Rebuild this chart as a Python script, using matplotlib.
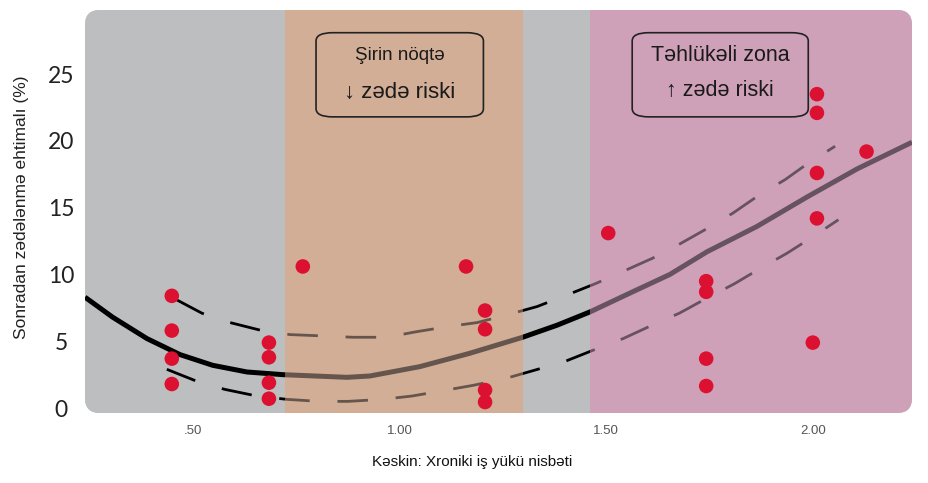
import numpy as np
import matplotlib
matplotlib.use("Agg")
import matplotlib.pyplot as plt
import matplotlib.patches as mpatches

# 점 데이터 (x: 비율, y: %)
dot_x = [0.449, 0.449, 0.449, 0.449, 0.684, 0.684, 0.684, 0.684, 0.766,
         1.161, 1.207, 1.207, 1.207, 1.207, 1.505,
         1.742, 1.742, 1.742, 1.742, 2.0, 2.01, 2.01, 2.01, 2.01, 2.13]
dot_y = [8.4, 5.8, 3.7, 1.8, 4.9, 3.8, 1.9, 0.7, 10.6,
         10.6, 7.3, 5.9, 1.35, 0.45, 13.1,
         9.5, 8.7, 3.7, 1.65, 4.9, 23.5, 22.1, 17.6, 14.2, 19.2]

# 추세선
fit_x = [0.239, 0.306, 0.389, 0.469, 0.548, 0.631, 0.718, 0.873, 0.928, 1.049, 1.170,
         1.298, 1.381, 1.461, 1.557, 1.654, 1.744, 1.865, 1.986, 2.107, 2.24]
fit_y = [8.3, 6.8, 5.2, 4.0, 3.2, 2.7, 2.5, 2.3, 2.4, 3.1, 4.1,
         5.3, 6.2, 7.2, 8.6, 10.0, 11.7, 13.6, 15.8, 17.9, 19.9]

# 신뢰구간 (위/아래)
up_x = [0.461, 0.522, 0.590, 0.667, 0.735, 0.815, 0.887, 0.970, 1.038, 1.117, 1.188, 1.263,
        1.333, 1.408, 1.473, 1.546, 1.611, 1.679, 1.742, 1.807, 1.868, 1.933, 1.992, 2.054]
up_y = [8.1, 7.1, 6.4, 5.8, 5.5, 5.4, 5.3, 5.3, 5.7, 6.1, 6.4, 7.0,
        7.6, 8.5, 9.3, 10.3, 11.2, 12.3, 13.4, 14.6, 15.9, 17.1, 18.4, 19.6]
lo_x = [0.437, 0.510, 0.577, 0.655, 0.728, 0.805, 0.875, 0.958, 1.030, 1.105, 1.178, 1.255,
        1.323, 1.401, 1.466, 1.541, 1.604, 1.677, 1.742, 1.810, 1.870, 1.938, 1.999, 2.062]
lo_y = [2.9, 2.0, 1.4, 0.9, 0.65, 0.5, 0.5, 0.65, 0.9, 1.3, 1.7, 2.2,
        2.8, 3.5, 4.3, 5.2, 6.1, 7.1, 8.2, 9.3, 10.4, 11.6, 12.8, 14.1]

# 구간: (시작, 끝, 배경색, 선색)
zones = [(0.239, 0.723, '#bdbec0', '#000000'),
         (0.723, 1.299, '#d2ae97', '#66554d'),
         (1.299, 1.461, '#bdbec0', '#000000'),
         (1.461, 2.24, '#cfa1b8', '#675260')]

x_ticks = [0.5, 1.0, 1.5, 2.0]
x_tick_labels = ['.50', '1.00', '1.50', '2.00']
y_ticks = [0, 5, 10, 15, 20, 25]

fig = plt.figure(figsize=(9.29, 4.83), dpi=100)
ax = fig.add_axes([85 / 929, 1 - 413 / 483, 827 / 929, 403 / 483])
ax.set_xlim(0.239, 2.24)
ax.set_ylim(-0.37, 29.8)
for s in ax.spines.values():
    s.set_visible(False)
ax.patch.set_visible(False)

# 둥근 패널
panel = mpatches.FancyBboxPatch((0, 0), 1, 1, boxstyle="round,pad=0,rounding_size=0.018",
                                mutation_aspect=827 / 403, transform=ax.transAxes,
                                facecolor='#bdbec0', edgecolor='none', zorder=0)
ax.add_patch(panel)

for x0, x1, bg, lc in zones:
    r = ax.axvspan(x0, x1, color=bg, lw=0, zorder=1)
    r.set_clip_path(panel)
    clip = mpatches.Rectangle((x0, -5), x1 - x0, 50, transform=ax.transData)
    l1, = ax.plot(fit_x, fit_y, color=lc, lw=3.6, solid_capstyle='butt', solid_joinstyle='round', zorder=2)
    l2, = ax.plot(up_x, up_y, color=lc, lw=2.0, dashes=(11, 10), zorder=2)
    l3, = ax.plot(lo_x, lo_y, color=lc, lw=2.0, dashes=(11, 10), zorder=2)
    for ln in (l1, l2, l3):
        ln.set_clip_path(clip)

ax.scatter(dot_x, dot_y, s=110, color='#dc1030', edgecolors='none', zorder=4)

# 주석 박스
box1 = mpatches.FancyBboxPatch((0.798, 21.8), 0.405, 6.3, boxstyle="round,pad=0,rounding_size=0.04",
                               mutation_aspect=15.5, facecolor='none', edgecolor='#222222', lw=1.2, zorder=5)
box2 = mpatches.FancyBboxPatch((1.563, 21.8), 0.426, 6.3, boxstyle="round,pad=0,rounding_size=0.04",
                               mutation_aspect=15.5, facecolor='none', edgecolor='#222222', lw=1.2, zorder=5)
ax.add_patch(box1)
ax.add_patch(box2)
tf = ['Liberation Sans', 'DejaVu Sans']
ax.text(1.001, 26.4, 'Şirin nöqtə', ha='center', va='center', fontsize=13.5, family=tf, color='#1a1a1a', zorder=6)
ax.text(1.001, 23.65, '↓ zədə riski', ha='center', va='center', fontsize=16, family=tf, color='#1a1a1a', zorder=6)
ax.text(1.776, 26.4, 'Təhlükəli zona', ha='center', va='center', fontsize=15.5, family=tf, color='#1a1a1a', zorder=6)
ax.text(1.776, 23.8, '↑ zədə riski', ha='center', va='center', fontsize=15.5, family=tf, color='#1a1a1a', zorder=6)

ax.set_xticks(x_ticks)
ax.set_xticklabels(x_tick_labels, fontsize=9.5, color='#555555', family='Liberation Sans')
ax.set_yticks(y_ticks)
ax.set_yticklabels([str(v) for v in y_ticks], fontsize=16.5, color='#222222', family='Lato', ha='center')
ax.tick_params(axis='x', length=0, pad=9)
ax.tick_params(axis='y', length=0, pad=17)

fig.text(22 / 929, 1 - 207 / 483, 'Sonradan zədələnmə ehtimalı (%)', rotation=90, ha='center', va='center',
         fontsize=12.5, family='Liberation Sans', color='#222222')
fig.text(472 / 929, 1 - 462 / 483, 'Kəskin: Xroniki iş yükü nisbəti', ha='center', va='center',
         fontsize=11, family='Liberation Sans', color='#111111')

fig.savefig('out.png', dpi=100)
